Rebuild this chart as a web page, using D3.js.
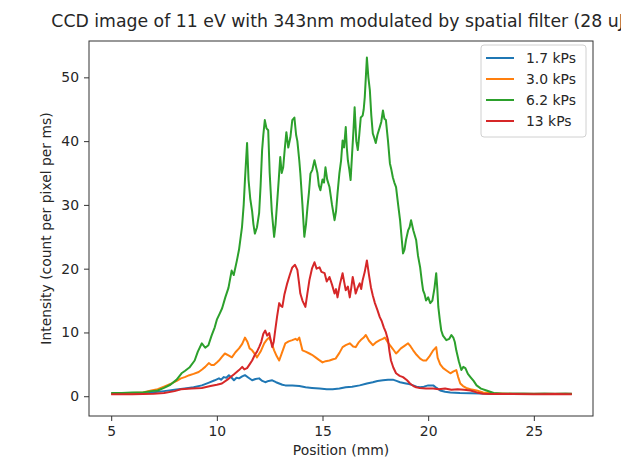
<!DOCTYPE html>
<html><head><meta charset="utf-8">
<script src="https://cdn.jsdelivr.net/npm/d3@7"></script>
<style>body{margin:0;background:#fff}svg{display:block}text{font-family:"DejaVu Sans",sans-serif;fill:#262626}</style>
</head><body><svg id="c" width="621" height="459"></svg>
<script>
const title = "CCD image of 11 eV with 343nm modulated by spatial filter (28 uJ)";
const xLabel = "Position (mm)";
const yLabel = "Intensity (count per pixel per ms)";
const xTicks = [5, 10, 15, 20, 25];
const yTicks = [0, 10, 20, 30, 40, 50];
const seriesNames = ["1.7 kPs", "3.0 kPs", "6.2 kPs", "13 kPs"];
const seriesColors = ["#1f77b4", "#ff7f0e", "#2ca02c", "#d62728"];

const blue = [[5.0,0.4],[5.5,0.4],[6.0,0.45],[6.5,0.5],[6.9,0.6],[7.5,0.8],[8.0,1.0],[8.48,1.2],[8.9,1.4],[9.29,1.7],[9.6,2.1],[9.9,2.5],[10.1,2.8],[10.2,2.6],[10.33,3.0],[10.45,2.9],[10.57,3.3],[10.7,2.9],[10.81,2.5],[10.93,2.9],[11.05,2.8],[11.2,3.1],[11.33,3.3],[11.5,2.9],[11.67,2.5],[11.83,2.7],[12.0,2.8],[12.15,2.4],[12.29,2.2],[12.45,2.4],[12.62,2.5],[12.8,2.2],[12.95,2.0],[13.1,1.8],[13.24,1.7],[13.57,1.7],[13.9,1.6],[14.2,1.4],[14.5,1.3],[14.86,1.2],[15.2,1.1],[15.48,1.1],[15.8,1.2],[16.1,1.4],[16.4,1.5],[16.76,1.7],[17.1,2.0],[17.38,2.2],[17.6,2.4],[17.86,2.5],[18.1,2.6],[18.33,2.6],[18.5,2.4],[18.67,2.2],[18.95,2.0],[19.1,1.9],[19.29,1.7],[19.45,1.5],[19.62,1.4],[19.8,1.5],[20.0,1.7],[20.24,1.7],[20.4,1.3],[20.57,0.9],[20.8,0.7],[21.05,0.6],[21.5,0.5],[22,0.45],[23,0.4],[24,0.4],[25,0.4],[26,0.4],[26.8,0.4]];

const orange = [[5.0,0.4],[5.5,0.45],[6.0,0.5],[6.5,0.6],[6.9,0.9],[7.2,1.1],[7.5,1.5],[7.86,2.0],[8.1,2.4],[8.3,2.8],[8.48,3.0],[8.7,3.3],[8.9,3.5],[9.14,3.8],[9.3,4.2],[9.45,4.6],[9.62,5.2],[9.74,4.9],[9.86,4.9],[10.0,5.3],[10.1,5.6],[10.25,6.2],[10.38,6.7],[10.55,6.4],[10.71,6.1],[10.88,6.9],[11.05,7.5],[11.2,8.2],[11.33,9.2],[11.45,8.5],[11.55,7.5],[11.67,7.2],[11.8,6.6],[11.9,6.1],[12.07,7.0],[12.24,8.3],[12.35,8.8],[12.48,9.2],[12.6,8.3],[12.71,7.2],[12.83,6.3],[12.95,5.6],[13.1,7.0],[13.24,8.3],[13.4,8.6],[13.57,8.8],[13.72,9.0],[13.81,8.8],[13.9,9.2],[14.05,7.2],[14.2,7.0],[14.38,6.7],[14.5,6.5],[14.67,6.1],[14.83,5.7],[15.0,5.3],[15.15,5.5],[15.33,5.6],[15.5,5.8],[15.62,5.9],[15.8,6.8],[15.95,7.7],[16.1,8.0],[16.29,8.3],[16.45,7.8],[16.57,7.7],[16.7,8.4],[16.81,8.8],[16.95,9.2],[17.05,9.6],[17.2,8.7],[17.38,8.0],[17.55,8.5],[17.71,8.8],[17.85,9.0],[17.95,9.2],[18.08,8.5],[18.19,8.0],[18.33,7.4],[18.48,6.7],[18.6,7.1],[18.71,7.5],[18.88,7.9],[19.05,8.3],[19.17,7.8],[19.29,7.2],[19.45,6.5],[19.62,5.9],[19.76,5.6],[19.9,5.6],[20.05,6.2],[20.24,7.2],[20.38,7.7],[20.45,6.0],[20.57,5.0],[20.71,4.4],[20.88,4.0],[21.05,3.6],[21.2,3.9],[21.33,4.1],[21.42,3.0],[21.52,2.0],[21.65,1.6],[21.8,1.3],[22.0,1.1],[22.29,0.9],[22.6,0.6],[23.0,0.45],[24,0.4],[25,0.4],[26,0.4],[26.8,0.4]];

const green = [[5.0,0.5],[5.5,0.5],[6.0,0.6],[6.5,0.6],[6.9,0.8],[7.2,0.9],[7.5,1.3],[7.8,1.8],[8.1,2.6],[8.33,3.6],[8.5,4.0],[8.7,4.5],[8.95,5.6],[9.1,7.0],[9.29,8.3],[9.45,7.6],[9.6,8.0],[9.75,9.5],[9.9,10.8],[10.0,12.0],[10.14,13],[10.25,13.8],[10.4,15.5],[10.55,17.0],[10.7,19.7],[10.8,19.0],[10.95,21.3],[11.05,23],[11.19,26.5],[11.27,30],[11.33,33.9],[11.43,39.7],[11.5,33.9],[11.58,31],[11.67,29],[11.73,27],[11.8,25.5],[11.9,26.5],[12.0,28.7],[12.07,33],[12.14,38.5],[12.2,41],[12.27,43.3],[12.35,42],[12.43,41.7],[12.5,35],[12.6,29],[12.71,25],[12.78,27],[12.86,30.7],[12.93,34],[13.0,37.5],[13.07,35],[13.14,35.9],[13.22,39],[13.29,41.4],[13.38,39],[13.48,40.6],[13.57,43.3],[13.67,43.7],[13.75,41],[13.81,40],[13.9,37],[13.95,35],[14.05,30],[14.14,25],[14.22,27],[14.29,29.7],[14.36,32],[14.43,34.9],[14.52,35.5],[14.62,37],[14.69,36],[14.76,35],[14.83,33],[14.9,32.3],[15.0,34],[15.07,33.5],[15.14,35.9],[15.22,34],[15.33,32.8],[15.45,30],[15.57,27.6],[15.64,29],[15.71,31.8],[15.8,35],[15.88,37],[15.95,40.1],[16.02,39],[16.1,42.2],[16.15,39],[16.2,37],[16.27,35.5],[16.33,33.9],[16.4,38],[16.47,42],[16.52,45.3],[16.6,40],[16.67,38.6],[16.74,41],[16.81,43.7],[16.9,44],[16.95,45],[17.0,46.9],[17.05,50],[17.1,53.1],[17.17,50],[17.24,48],[17.31,44],[17.38,41.2],[17.45,40.5],[17.52,39.7],[17.6,41],[17.71,42.2],[17.78,43],[17.86,44.8],[17.93,43.5],[18.0,43.3],[18.1,40],[18.19,36.5],[18.26,35.5],[18.33,34.3],[18.4,33.5],[18.48,32.8],[18.58,30],[18.67,27.6],[18.74,25],[18.81,22.4],[18.88,23],[18.95,24.5],[19.05,26],[19.12,26.5],[19.19,27.6],[19.3,26],[19.43,24.5],[19.52,22],[19.62,20.2],[19.7,18],[19.76,16.6],[19.83,16],[19.9,15],[20.0,15.5],[20.1,14.6],[20.2,15],[20.3,17],[20.38,19.3],[20.43,17],[20.48,14],[20.55,12],[20.62,10.3],[20.7,9.5],[20.86,8.8],[21.0,9.0],[21.1,9.6],[21.19,9.2],[21.26,8.5],[21.33,7.2],[21.45,5.5],[21.57,4.1],[21.66,4.6],[21.76,4.4],[21.88,3.5],[22.0,3.0],[22.15,2.4],[22.29,1.7],[22.5,1.2],[22.76,0.9],[23.1,0.5],[23.5,0.4],[24,0.4],[24.5,0.4],[25,0.35],[25.5,0.4],[26,0.35],[26.5,0.4],[26.8,0.35]];

const red = [[5.0,0.3],[5.5,0.3],[6.0,0.3],[6.5,0.35],[7.0,0.4],[7.5,0.5],[8.0,0.8],[8.3,1.1],[8.8,1.2],[9.29,1.3],[9.7,1.6],[10.0,1.8],[10.24,2.0],[10.5,2.6],[10.8,3.4],[11.05,4.1],[11.2,4.6],[11.3,4.2],[11.43,4.4],[11.55,5.0],[11.67,5.6],[11.8,6.5],[11.9,7.0],[12.0,7.7],[12.1,8.5],[12.2,9.8],[12.29,10.3],[12.38,9.5],[12.48,9.9],[12.55,8.8],[12.62,7.7],[12.69,8.5],[12.76,10.3],[12.85,12.5],[12.95,14.6],[13.02,14.2],[13.1,14],[13.2,16],[13.33,17.7],[13.45,19],[13.57,20.2],[13.7,20.6],[13.81,19.8],[13.88,18],[13.95,16.1],[14.05,15],[14.19,14],[14.28,16],[14.38,18.2],[14.5,20],[14.62,21],[14.72,20],[14.86,20.2],[14.95,19.5],[15.1,19.3],[15.2,18.0],[15.33,18.7],[15.45,17.5],[15.57,16.1],[15.64,16.8],[15.71,15.5],[15.82,17.5],[15.95,19.3],[16.02,18],[16.1,16.6],[16.2,17.2],[16.29,15.5],[16.36,17],[16.43,18.7],[16.5,17.5],[16.57,16.1],[16.66,17],[16.76,17.7],[16.83,16.8],[16.9,18.2],[17.0,19.5],[17.1,21.3],[17.2,19],[17.29,17.1],[17.38,15.8],[17.48,14.6],[17.6,13.5],[17.71,12.4],[17.8,11.8],[17.9,10.8],[18.0,10],[18.1,8.8],[18.17,7],[18.24,5.6],[18.35,4.5],[18.48,3.6],[18.65,3.2],[18.81,3.0],[19.0,2.5],[19.14,2.0],[19.3,1.6],[19.43,1.4],[19.6,1.3],[19.9,1.2],[20.24,1.2],[20.5,1.1],[20.8,1.2],[21.1,1.0],[21.4,1.1],[21.7,1.0],[22.0,0.9],[22.3,0.6],[22.6,0.4],[23.0,0.35],[24,0.35],[25,0.3],[26,0.35],[26.8,0.3]];

const allSeries = [blue, orange, green, red];

const svg = d3.select("#c");
const L = 89, R = 593, T = 41, B = 416;
const x = d3.scaleLinear().domain([3.95, 27.8]).range([L, R]);
const y = d3.scaleLinear().domain([-3.1, 55.7]).range([B, T]);

svg.append("text").attr("x", (L + R) / 2).attr("y", 27).attr("text-anchor", "middle")
  .style("font-size", "17.3px").text(title);

svg.append("clipPath").attr("id", "pc").append("rect")
  .attr("x", L).attr("y", T).attr("width", R - L).attr("height", B - T);

const line = d3.line().x(d => x(d[0])).y(d => y(d[1]));
const lines = svg.append("g").attr("clip-path", "url(#pc)");
allSeries.forEach((s, i) => {
  lines.append("path").datum(s).attr("d", line).attr("fill", "none")
    .attr("stroke", seriesColors[i]).attr("stroke-width", 2).attr("stroke-linejoin", "round");
});

const xa = svg.append("g").attr("transform", `translate(0,${B})`)
  .call(d3.axisBottom(x).tickValues(xTicks).tickSize(5).tickPadding(5).tickFormat(d3.format("d")));
const ya = svg.append("g").attr("transform", `translate(${L},0)`)
  .call(d3.axisLeft(y).tickValues(yTicks).tickSize(5).tickPadding(5).tickFormat(d3.format("d")));
[xa, ya].forEach(a => {
  a.select(".domain").remove();
  a.selectAll("line").attr("stroke", "#333");
  a.selectAll("text").style("font-size", "13.9px").style("font-family", "DejaVu Sans").attr("fill", "#262626");
});
svg.append("rect").attr("x", L).attr("y", T).attr("width", R - L).attr("height", B - T)
  .attr("fill", "none").attr("stroke", "#333").attr("stroke-width", 1);

svg.append("text").attr("x", (L + R) / 2).attr("y", 455).attr("text-anchor", "middle")
  .style("font-size", "13.9px").text(xLabel);
svg.append("text").attr("transform", `translate(51,${(T + B) / 2}) rotate(-90)`).attr("text-anchor", "middle")
  .style("font-size", "13.9px").text(yLabel);

const lg = svg.append("g");
lg.append("rect").attr("x", 481).attr("y", 45).attr("width", 105).attr("height", 92)
  .attr("fill", "#fff").attr("fill-opacity", 0.8).attr("stroke", "#d0d0d0").attr("rx", 3);
seriesNames.forEach((n, i) => {
  const yy = 58 + i * 21;
  lg.append("line").attr("x1", 486).attr("x2", 514).attr("y1", yy).attr("y2", yy)
    .attr("stroke", seriesColors[i]).attr("stroke-width", 2);
  lg.append("text").attr("x", 526).attr("y", yy + 5).style("font-size", "13.9px").text(n);
});
</script></body></html>
